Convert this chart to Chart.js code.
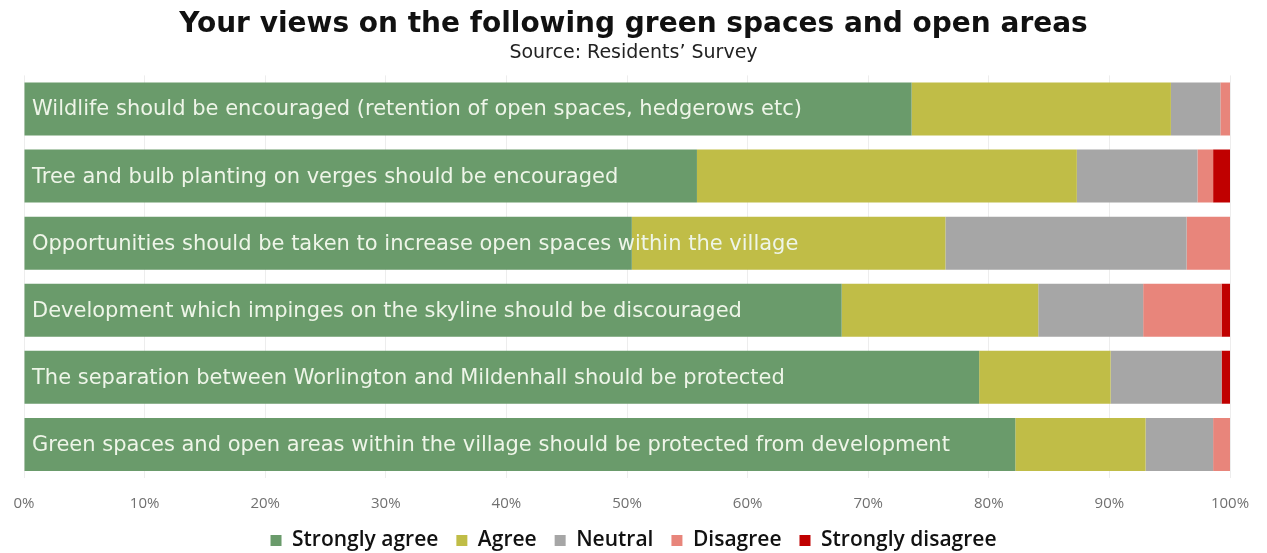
<!DOCTYPE html>
<html>
<head>
<meta charset="utf-8">
<script src="https://cdn.jsdelivr.net/npm/chart.js@4"></script>
<style>
  html, body { margin: 0; padding: 0; background: #fff; overflow: hidden; }
  #wrap { width: 1267px; height: 553px; position: relative; }
</style>
</head>
<body>
<div id="wrap"><canvas id="myChart"></canvas></div>
<script>
// survey statements, top to bottom
const statements = [
    'Wildlife should be encouraged (retention of open spaces, hedgerows etc)',
    'Tree and bulb planting on verges should be encouraged',
    'Opportunities should be taken to increase open spaces within the village',
    'Development which impinges on the skyline should be discouraged',
    'The separation between Worlington and Mildenhall should be protected',
    'Green spaces and open areas within the village should be protected from development'
];

// percentage of responses per answer
const stronglyAgree    = [73.6, 55.8, 50.4, 67.8, 79.2, 82.2];
const agree            = [21.5, 31.5, 26.0, 16.3, 10.9, 10.8];
const neutral          = [4.1, 10.0, 20.0, 8.7, 9.2, 5.6];
const disagree         = [0.8, 1.3, 3.6, 6.5, 0.0, 1.4];
const stronglyDisagree = [0.0, 1.4, 0.0, 0.7, 0.7, 0.0];

const answers = ['Strongly agree', 'Agree', 'Neutral', 'Disagree', 'Strongly disagree'];
const colours = ['#6a9b6b', '#c0bd47', '#a6a6a6', '#e8857b', '#c00000'];
const values = [stronglyAgree, agree, neutral, disagree, stronglyDisagree];

// statement text written over the start of each bar
const barText = {
    id: 'barText',
    afterDatasetsDraw(chart) {
        const ctx = chart.ctx;
        const x = chart.scales.x;
        const y = chart.scales.y;
        ctx.save();
        ctx.font = '21px "DejaVu Sans"';
        ctx.fillStyle = '#eef5e8';
        ctx.textBaseline = 'middle';
        statements.forEach((s, i) => {
            ctx.fillText(s, x.getPixelForValue(0) + 8, y.getPixelForValue(i) + 1);
        });
        ctx.restore();
    }
};

const chartData = {
    labels: statements,
    datasets: answers.map((a, i) => ({
        label: a,
        data: values[i],
        backgroundColor: colours[i],
        borderWidth: 0,
        barPercentage: 0.79,
        categoryPercentage: 1
    }))
};

const config = {
    type: 'bar',
    data: chartData,
    plugins: [barText],
    options: {
        indexAxis: 'y',
        responsive: true,
        maintainAspectRatio: false,
        animation: false,
        layout: { padding: { left: 24, right: 24, top: 0, bottom: -8 } },
        scales: {
            x: {
                stacked: true,
                min: 0,
                max: 100,
                ticks: {
                    stepSize: 10,
                    callback: (v) => v + '%',
                    color: '#707070',
                    font: { family: 'Open Sans', size: 15 },
                    padding: 17
                },
                grid: { color: '#ededed', drawTicks: false },
                border: { display: false },
                // fixed band height so the legend sits close below the ticks,
                // and fixed side room for the end labels
                afterFit: (scale) => {
                    scale.height = 34;
                    scale.paddingLeft = 0;
                    scale.paddingRight = 37;
                }
            },
            y: {
                stacked: true,
                display: false
            }
        },
        plugins: {
            title: {
                display: true,
                text: 'Your views on the following green spaces and open areas',
                color: '#111',
                font: { family: 'DejaVu Sans', size: 28, weight: 'bold' },
                padding: { top: 8, bottom: 0 }
            },
            subtitle: {
                display: true,
                text: 'Source: Residents\u2019 Survey',
                color: '#222',
                font: { family: 'DejaVu Sans', size: 19 },
                padding: { top: 0, bottom: 11 }
            },
            legend: {
                position: 'bottom',
                labels: {
                    boxWidth: 11,
                    boxHeight: 11,
                    padding: 18,
                    color: '#111',
                    font: { family: 'Open Sans', size: 21, weight: '600' }
                }
            },
            tooltip: { enabled: false }
        }
    }
};

const myChart = new Chart(document.getElementById('myChart'), config);
</script>
</body>
</html>
